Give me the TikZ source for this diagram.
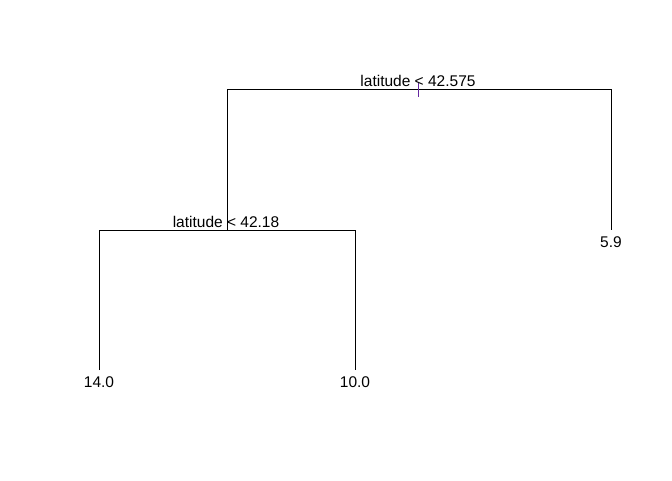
\documentclass[tikz,border=0pt]{standalone}
\usepackage{fontspec}
\setmainfont{Liberation Sans}
\begin{document}
\begin{tikzpicture}[x=1pt,y=-1pt,
  edge/.style={line width=1pt,black},
  lab/.style={anchor=base,inner sep=0pt,font=\fontsize{15.5}{16}\selectfont},
  pt/.style={inner sep=0pt,minimum size=0pt}]
\definecolor{tickc}{RGB}{100,40,160}
\useasboundingbox (0,0) rectangle (672,480);
% split points
\coordinate (rootL) at (227,89);
\coordinate (rootR) at (611,89);
\coordinate (n2) at (227,230);
\coordinate (n2L) at (99,230);
\coordinate (n2R) at (355,230);
\coordinate (leafA) at (99,370);
\coordinate (leafB) at (355,370);
\coordinate (leafC) at (611,230);
\coordinate (tickT) at (418,83);
\coordinate (tickB) at (418,97);
% edges
\draw[edge] (n2) -- (rootL) -- (rootR) -- (leafC);
\draw[edge] (leafA) -- (n2L) -- (n2R) -- (leafB);
\draw[line width=1pt,tickc] (tickT) -- (tickB);
% labels
\node[lab] (s1) at (418,86.5) {latitude < 42.575};
\node[lab] (s2) at (226,227) {latitude < 42.18};
\node[lab] (lA) at (99,387) {14.0};
\node[lab] (lB) at (355,387) {10.0};
\node[lab] (lC) at (611,247) {5.9};
\end{tikzpicture}
\end{document}
